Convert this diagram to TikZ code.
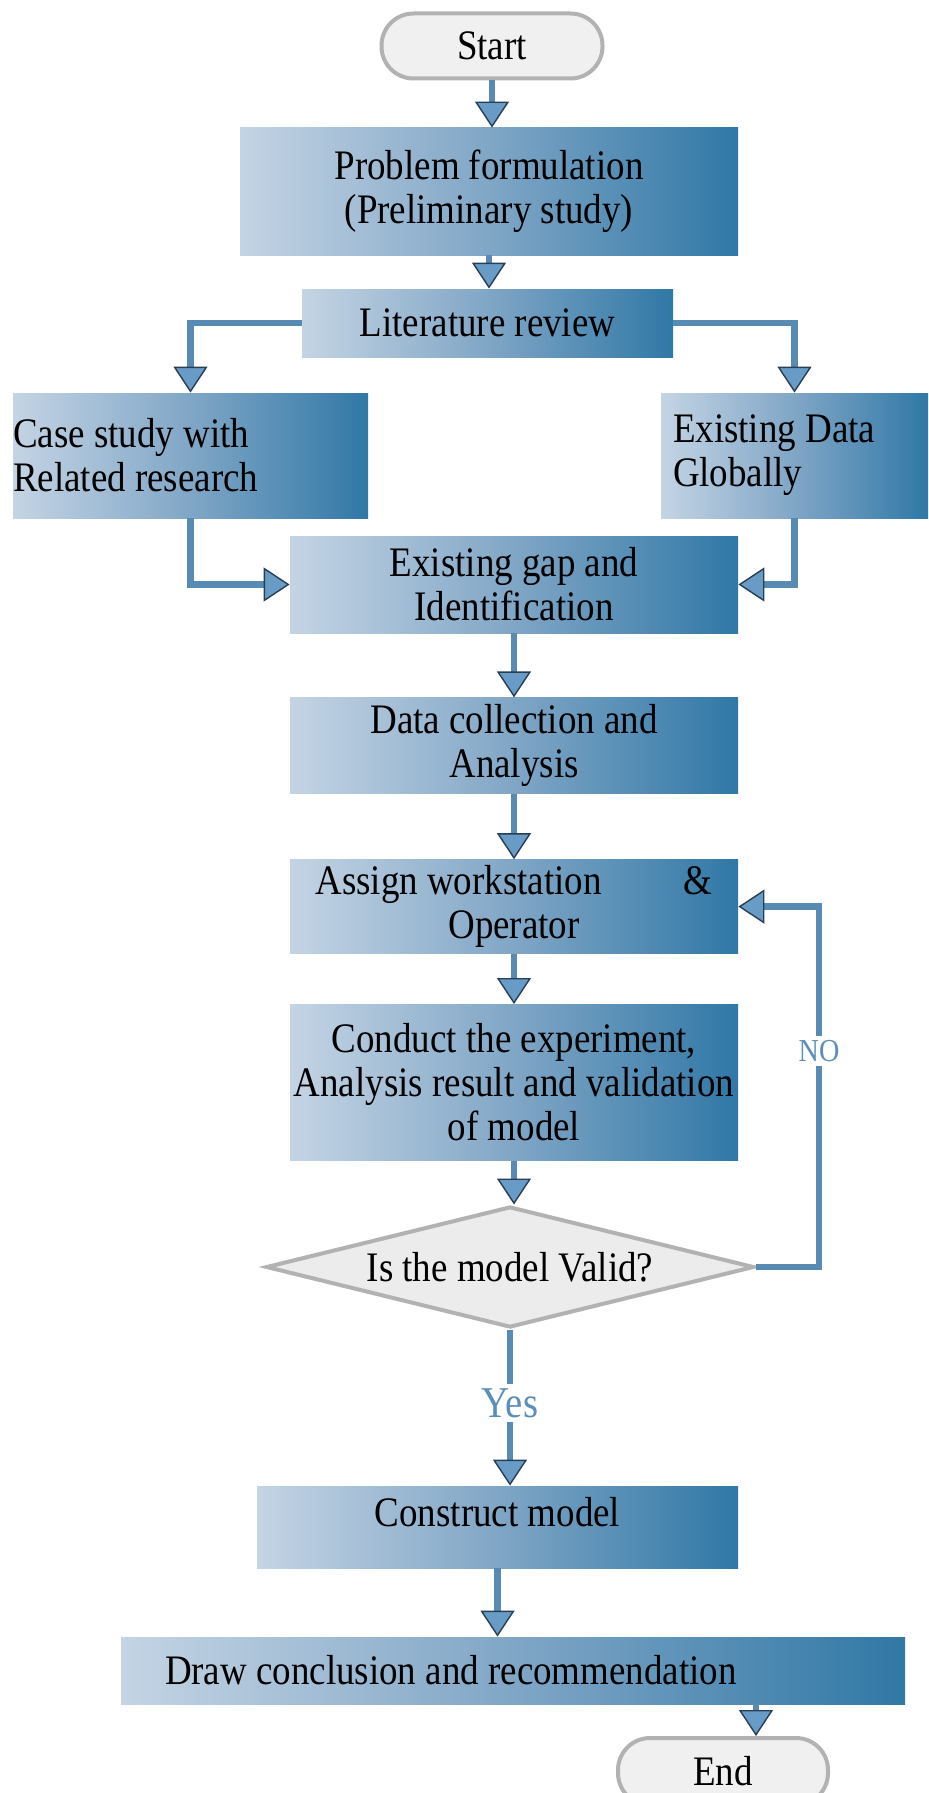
\documentclass[tikz,border=0pt]{standalone}
\usepackage{fontspec}
\setmainfont{Liberation Serif}[FakeStretch=0.88]
\usepackage{xcolor}
\usetikzlibrary{arrows.meta,positioning,shapes.geometric}

\definecolor{boxlight}{RGB}{196,212,228}
\definecolor{boxmid}{RGB}{128,166,198}
\definecolor{boxdark}{RGB}{48,120,166}
\definecolor{linkblue}{RGB}{88,139,180}
\definecolor{tipfill}{RGB}{104,156,198}
\definecolor{tipdark}{RGB}{40,62,84}
\definecolor{labelblue}{RGB}{92,142,186}

\begin{document}
\begin{tikzpicture}[
  x=0.5pt, y=-0.5pt,
  every node/.style={font=\fontsize{21}{22}\selectfont},
  block/.style={rectangle, left color=boxlight, right color=boxdark, middle color=boxmid, inner sep=0pt, align=center},
  term/.style={rectangle, rounded corners=16pt, draw=gray!60, line width=2pt, fill=gray!12, minimum width=110.5pt, minimum height=32.5pt},
  decision/.style={diamond, aspect=4, draw=gray!60, line width=2pt, fill=gray!15, inner sep=0pt, minimum width=244pt, minimum height=60.5pt},
  arrow/.style={draw=linkblue, line width=3.2pt, -{Triangle[length=13pt, width=17pt, line width=0.7pt, color=tipdark, fill=tipfill]}},
  ans/.style={fill=white, text=labelblue, inner sep=2pt}
]
\useasboundingbox (0,0) rectangle (928,1793);
\clip (0,0) rectangle (928,1793);

\node[term] (start) at (492,46) {Start};
\node[block, minimum width=249pt, minimum height=63.5pt] (prob) at (489,191.5) {Problem formulation\\(Preliminary study)};
\node[block, minimum width=185.5pt, minimum height=34pt] (lit) at (487.5,323) {Literature review};
\node[block, text width=177.5pt, align=flush left, minimum height=62.5pt] (case) at (190.5,455.5) {Case study with\\Related research};
\node[block, text width=121.5pt, inner xsep=6pt, align=flush left, minimum height=62.5pt] (exist) at (794.5,455.5) {Existing Data\\Globally};
\node[block, minimum width=224pt, minimum height=48.5pt] (gap) at (514,584.5) {Existing gap and\\Identification};
\node[block, minimum width=224pt, minimum height=48pt, below=32pt of gap] (data) {Data collection and\\Analysis};
\node[block, minimum width=224pt, minimum height=47pt, below=32.5pt of data] (assign) {Assign workstation\hspace{41pt}\&\\Operator};
\node[block, minimum width=224pt, minimum height=78pt, below=25pt of assign] (conduct) {Conduct the experiment,\\Analysis result and validation\\of model};
\node[decision] (valid) at (510,1267) {Is the model Valid?};
\node[block, minimum width=240.5pt, minimum height=41pt] (construct) at (497.5,1527) {\raisebox{7.5pt}[\height][\depth]{Construct model}};
\node[block, text width=348pt, inner xsep=22pt, align=flush left, minimum height=33.5pt] (concl) at (513,1670.5) {Draw conclusion and recommendation};
\node[term, minimum width=105pt, minimum height=33.5pt] (end) at (723,1771.5) {End};

\draw[arrow] (start) -- (start |- prob.north);
\draw[arrow] (prob) -- (prob |- lit.north);
\draw[arrow] (lit.west) -| (case.north);
\draw[arrow] (lit.east) -| (exist.north);
\draw[arrow] (case.south) |- (gap.west);
\draw[arrow] (exist.south) |- (gap.east);
\draw[arrow] (gap) -- (data);
\draw[arrow] (data) -- (assign);
\draw[arrow] (assign) -- (conduct);
\draw[arrow] (conduct) -- (conduct |- valid.north);
\draw[arrow] (valid.east) -- ++(63,0) |- node[ans, pos=0.3, font=\fontsize{16}{18}\selectfont] {NO} (assign.east);
\draw[arrow] (valid.south) -- node[ans, pos=0.47, font=\fontsize{22}{24}\selectfont] {Yes} (valid.south |- construct.north);
\draw[arrow] (construct) -- (construct |- concl.north);
\draw[arrow] ([xshift=121.5pt]concl.south) -- ([xshift=121.5pt]concl.south |- end.north);
\end{tikzpicture}
\end{document}
